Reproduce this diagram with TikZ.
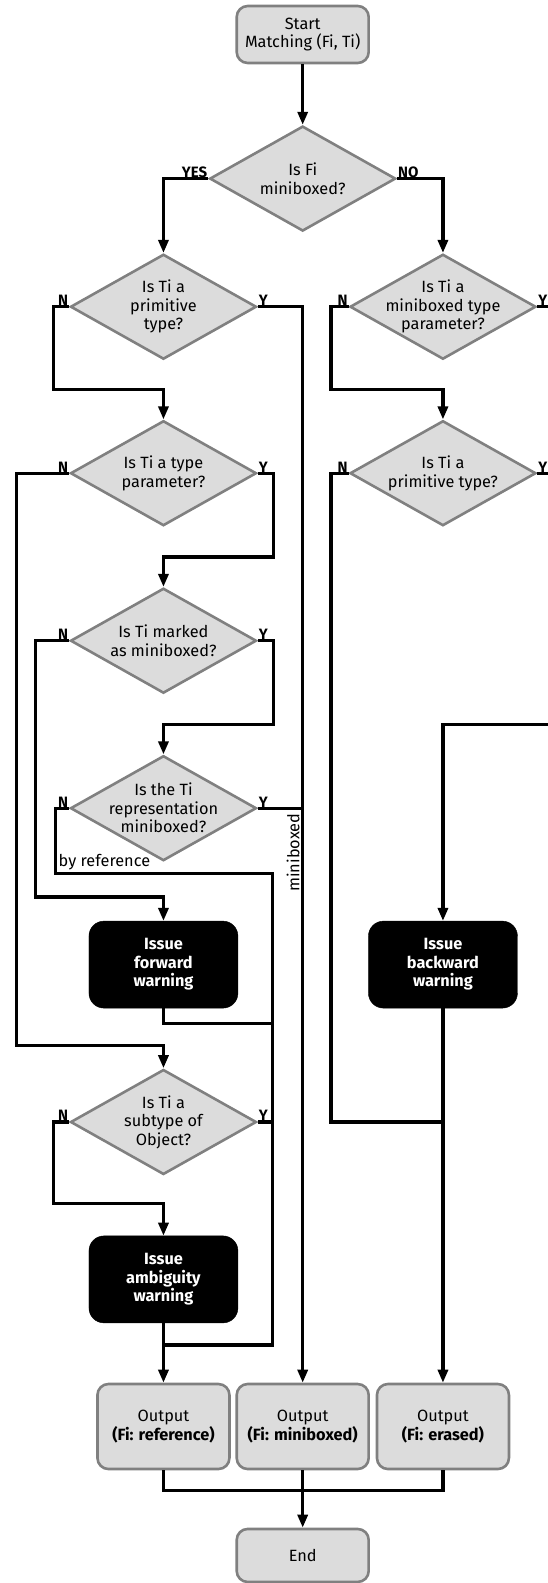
\documentclass[tikz,border=0pt]{standalone}
\usepackage{fontspec}
\setmainfont{Fira Sans}
\usetikzlibrary{shapes.geometric,arrows.meta,calc}
\definecolor{lgray}{HTML}{DCDCDC}
\definecolor{dgray}{HTML}{808080}
\newcommand\mytxt{\fontsize{16.3}{18.5}\selectfont}
\newcommand\mylbl{\fontsize{15}{16}\selectfont}
\tikzset{
 dec/.style={diamond, draw=dgray, fill=lgray, line width=2.6pt, minimum width=186pt, minimum height=105pt, inner sep=0pt},
 dtext/.style={font=\mytxt, align=center},
 gbox/.style={rectangle, rounded corners=11pt, draw=dgray, fill=lgray, line width=2.6pt, minimum width=132pt, minimum height=57pt, align=center, font=\mytxt},
 obox/.style={gbox, minimum width=132pt, minimum height=85pt},
 bbox/.style={rectangle, rounded corners=15pt, fill=black, draw=black, minimum width=149pt, minimum height=87pt, align=center, text=white, font=\mytxt\bfseries},
 conn/.style={line width=3.2pt, black},
 arr/.style={conn, -{Triangle[length=13pt,width=10pt]}},
 yn/.style={font=\mylbl\bfseries, inner sep=1pt},
}
\begin{document}
\begin{tikzpicture}[x=1.009pt,y=-1.009pt]
\useasboundingbox (0,0) rectangle (543.1,1568.9);
\clip (0,0) rectangle (543.1,1568.9);
% nodes
\node[gbox] (start) at (300,34.2) {Start\\Matching (Fi, Ti)};
\node[dec, label={[dtext]center:Is Fi\\miniboxed?}] (d1) at (300,177) {};
\node[dec, label={[dtext]center:Is Ti a\\primitive\\type?}] (d2) at (162,304) {};
\node[dec, label={[dtext]center:Is Ti a\\miniboxed type\\parameter?}] (d3) at (439,304) {};
\node[dec, label={[dtext]center:Is Ti a type\\parameter?}] (d4) at (162,469) {};
\node[dec, label={[dtext]center:Is Ti a\\primitive type?}] (d8) at (439,469) {};
\node[dec, label={[dtext]center:Is Ti marked\\as miniboxed?}] (d5) at (162,635) {};
\node[dec, label={[dtext]center:Is the Ti\\representation\\miniboxed?}] (d7) at (162,801) {};
\node[bbox] (fw) at (162,956) {Issue\\forward\\warning};
\node[bbox] (bw) at (439,956) {Issue\\backward\\warning};
\node[dec, label={[dtext]center:Is Ti a\\subtype of\\Object?}] (d6) at (162,1112) {};
\node[bbox] (aw) at (162,1268) {Issue\\ambiguity\\warning};
\node[obox] (out1) at (162,1413.8) {Output\\\textbf{(Fi: reference)}};
\node[obox] (out2) at (300,1413.8) {Output\\\textbf{(Fi: miniboxed)}};
\node[obox] (out3) at (439,1413.8) {Output\\\textbf{(Fi: erased)}};
\node[gbox, minimum height=53pt] (end) at (300,1541.6) {End};
\coordinate (re) at (545,718);
% connectors
\draw[arr] (start.south) -- (d1.north);
\draw[arr] (d1.west) -| (d2.north);
\node[yn, anchor=south east] (lyes) at (d1.west) {YES};
\draw[arr] (d1.east) -| (d3.north);
\node[yn, anchor=south west] (lno) at (d1.east) {NO};
% primitive?
\draw[arr] (d2.west) -| (53,386) -| (d4.north);
\node[yn, anchor=south east] (n2) at (d2.west) {N};
\draw[arr] (d2.east) -| (out2.north);
\node[yn, anchor=south west] (y2) at (d2.east) {Y};
% type parameter?
\draw[arr] (d4.west) -| (16,1036) -| (d6.north);
\node[yn, anchor=south east] (n4) at (d4.west) {N};
\draw[arr] (d4.east) -| (271,552) -| (d5.north);
\node[yn, anchor=south west] (y4) at (d4.east) {Y};
% marked?
\draw[arr] (d5.west) -| (35,889) -| (fw.north);
\node[yn, anchor=south east] (n5) at (d5.west) {N};
\draw[arr] (d5.east) -| (271,718) -| (d7.north);
\node[yn, anchor=south west] (y5) at (d5.east) {Y};
% representation?
\draw[conn] (d7.west) -| (55,866) -| (270,1333) -- (162,1333);
\node[yn, anchor=south east] (n7) at (d7.west) {N};
\node[font=\mytxt, anchor=south west, inner sep=1pt] (byref) at (57,863) {by reference};
\draw[conn] (d7.east) -- (300,801);
\node[yn, anchor=south west] (y7) at (d7.east) {Y};
\node[font=\mytxt, rotate=90, anchor=south, inner sep=1pt] (mbx) at (298,845) {miniboxed};
% forward warning
\draw[conn] (fw.south) |- (270,1014);
% subtype
\draw[arr] (d6.west) -| (53,1193) -| (aw.north);
\node[yn, anchor=south east] (n6) at (d6.west) {N};
\draw[conn] (d6.east) -- (270,1112);
\node[yn, anchor=south west] (y6) at (d6.east) {Y};
\draw[arr] (aw.south) -- (out1.north);
% right column
\draw[arr] (d3.west) -| (328,386) -| (d8.north);
\node[yn, anchor=south east] (n3) at (d3.west) {N};
\draw[conn] (d3.east) -- (545,304);
\node[yn, anchor=south west] (y3) at (d3.east) {Y};
\draw[conn] (d8.west) -| (328,1112) -- (439,1112);
\node[yn, anchor=south east] (n8) at (d8.west) {N};
\draw[conn] (d8.east) -- (545,469);
\node[yn, anchor=south west] (y8) at (d8.east) {Y};
\draw[arr] (re) -| (bw.north);
\draw[arr] (bw.south) -- (out3.north);
% outputs
\draw[conn] (out1.south) -- (162,1477) -- (439,1477) -- (out3.south);
\draw[arr] (out2.south) -- (end.north);
\end{tikzpicture}
\end{document}
